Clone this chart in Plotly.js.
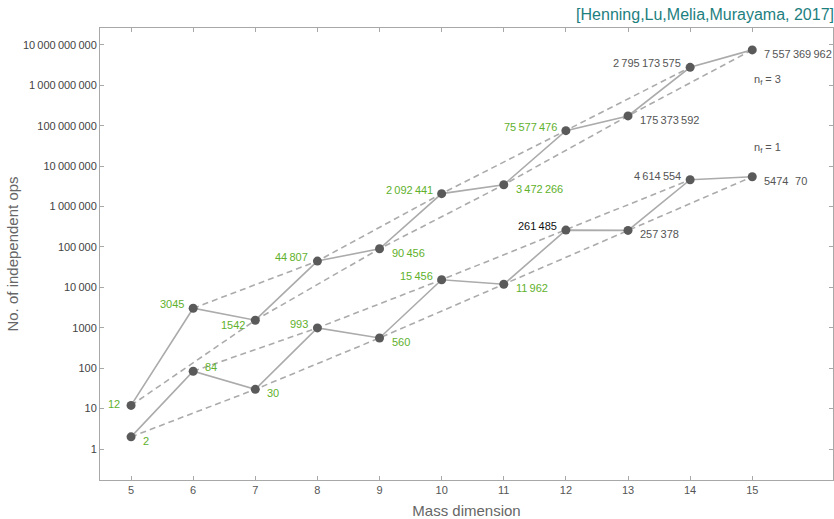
<!DOCTYPE html>
<html>
<head>
<meta charset="utf-8">
<script src="https://cdn.plot.ly/plotly-3.0.1.min.js"></script>
<style>html,body{margin:0;padding:0;background:#fff}#chart{width:834px;height:519px}</style>
</head>
<body>
<div id="chart"></div>
<script>
// ---- data ----
var massDim = [5, 6, 7, 8, 9, 10, 11, 12, 13, 14, 15];
var opsNf3 = [12, 3045, 1542, 44807, 90456, 2092441, 3472266, 75577476, 175373592, 2795173575, 7557369962];
var opsNf1 = [2, 84, 30, 993, 560, 15456, 11962, 261485, 257378, 4614554, 5474170];
var labelsNf3 = ["12", "3045", "1542", "44\u2009807", "90\u2009456", "2\u2009092\u2009441", "3\u2009472\u2009266", "75\u2009577\u2009476", "175\u2009373\u2009592", "2\u2009795\u2009173\u2009575", "7\u2009557\u2009369\u2009962"];
var labelsNf1 = ["2", "84", "30", "993", "560", "15\u2009456", "11\u2009962", "261\u2009485", "257\u2009378", "4\u2009614\u2009554", "5474\u2009\u2009\u200970"];
var yTickVals = [1, 10, 100, 1000, 1e4, 1e5, 1e6, 1e7, 1e8, 1e9, 1e10];
var yTickText = ["1", "10", "100", "1000", "10\u2009000", "100\u2009000", "1\u2009000\u2009000", "10\u2009000\u2009000", "100\u2009000\u2009000", "1\u2009000\u2009000\u2009000", "10\u2009000\u2009000\u2009000"];
var xTickVals = [5, 6, 7, 8, 9, 10, 11, 12, 13, 14, 15];
var titleText = "[Henning,Lu,Melia,Murayama, 2017]";
var seriesNotes = ["n<sub>f</sub> = 3", "n<sub>f</sub> = 1"];

// ---- styles ----
var GREEN = "#5fb12c", DGRAY = "#555555", BLACK = "#111111";
var colorsNf3 = [GREEN, GREEN, GREEN, GREEN, GREEN, GREEN, GREEN, GREEN, DGRAY, DGRAY, DGRAY];
var colorsNf1 = [GREEN, GREEN, GREEN, GREEN, GREEN, GREEN, GREEN, BLACK, DGRAY, DGRAY, DGRAY];
var FONT = "Liberation Sans, Arial, Helvetica, sans-serif";
var LINE = "#ababab";

function pick(xs, ys, parity) {
  var ox = [], oy = [];
  for (var i = 0; i < xs.length; i++) if (xs[i] % 2 === parity) { ox.push(xs[i]); oy.push(ys[i]); }
  return {x: ox, y: oy};
}

var traces = [];
[opsNf3, opsNf1].forEach(function (ys) {
  [0, 1].forEach(function (p) {
    var s = pick(massDim, ys, p);
    traces.push({x: s.x, y: s.y, mode: "lines", type: "scatter", hoverinfo: "skip",
      line: {color: LINE, width: 1.6, dash: "6px,4px"}});
  });
  traces.push({x: massDim, y: ys, mode: "lines", type: "scatter", hoverinfo: "skip",
    line: {color: LINE, width: 1.6}});
});
[opsNf3, opsNf1].forEach(function (ys) {
  traces.push({x: massDim, y: ys, mode: "markers", type: "scatter",
    marker: {color: "#5a5a5a", size: 9}});
});

// label placement rules
function placement(series, x) {
  if (x === 5) return series === 0 ? "left" : "br";
  if (x === 6 && series === 1) return "tr";
  if (x === 7 && series === 0) return "bl";
  return (x % 2 === 0) ? "tl" : "br";
}
var annotations = [];
[[opsNf3, labelsNf3, colorsNf3], [opsNf1, labelsNf1, colorsNf1]].forEach(function (s, si) {
  for (var i = 0; i < massDim.length; i++) {
    var pl = placement(si, massDim[i]);
    var a = {x: massDim[i], y: Math.log10(s[0][i]), xref: "x", yref: "y", text: s[1][i],
      showarrow: false, font: {family: FONT, size: 11, color: s[2][i]}, yanchor: "middle"};
    if (pl === "tl") { a.xanchor = "right"; a.xshift = -7; a.yshift = 4; }
    else if (pl === "br") { a.xanchor = "left"; a.xshift = 10; a.yshift = -4; }
    else if (pl === "tr") { a.xanchor = "left"; a.xshift = 10; a.yshift = 4; }
    else if (pl === "bl") { a.xanchor = "right"; a.xshift = -8; a.yshift = -5; }
    else { a.xanchor = "right"; a.xshift = -9; a.yshift = 1; }
    annotations.push(a);
  }
});
annotations.push({x: 15, y: 9.13, xref: "x", yref: "y", text: seriesNotes[0], showarrow: false,
  xanchor: "left", xshift: 0, font: {family: FONT, size: 11, color: DGRAY}});
annotations.push({x: 15, y: 7.45, xref: "x", yref: "y", text: seriesNotes[1], showarrow: false,
  xanchor: "left", xshift: 0, font: {family: FONT, size: 11, color: DGRAY}});

var axisCommon = {showgrid: false, zeroline: false, showline: true, linecolor: "#a8a8a8", linewidth: 1,
  mirror: "ticks", ticks: "inside", ticklen: 4, tickcolor: "#a8a8a8", tickwidth: 1};

var layout = {
  width: 834, height: 519,
  margin: {l: 100, r: 1, t: 28, b: 39},
  paper_bgcolor: "#fff", plot_bgcolor: "#fff",
  showlegend: false,
  font: {family: FONT},
  title: {text: titleText, x: 1, xref: "container", xanchor: "right", y: 0.972, yref: "container", yanchor: "middle",
    pad: {r: 0, l: 0, t: 0, b: 0},
    font: {family: FONT, size: 16, color: "#1e7f7f"}},
  xaxis: Object.assign({}, axisCommon, {range: [4.5, 16.3], tickvals: xTickVals,
    tickfont: {family: FONT, size: 11, color: "#555"},
    title: {text: "Mass dimension", font: {family: FONT, size: 15, color: "#666"}, standoff: 10}}),
  yaxis: Object.assign({}, axisCommon, {type: "log", range: [-0.767, 10.42], tickvals: yTickVals, ticktext: yTickText,
    tickfont: {family: FONT, size: 11, color: "#444"},
    title: {text: "No. of independent ops", font: {family: FONT, size: 15, color: "#666"}, standoff: 0}}),
  annotations: annotations
};

Plotly.newPlot("chart", traces, layout, {staticPlot: true, displayModeBar: false});
</script>
</body>
</html>
